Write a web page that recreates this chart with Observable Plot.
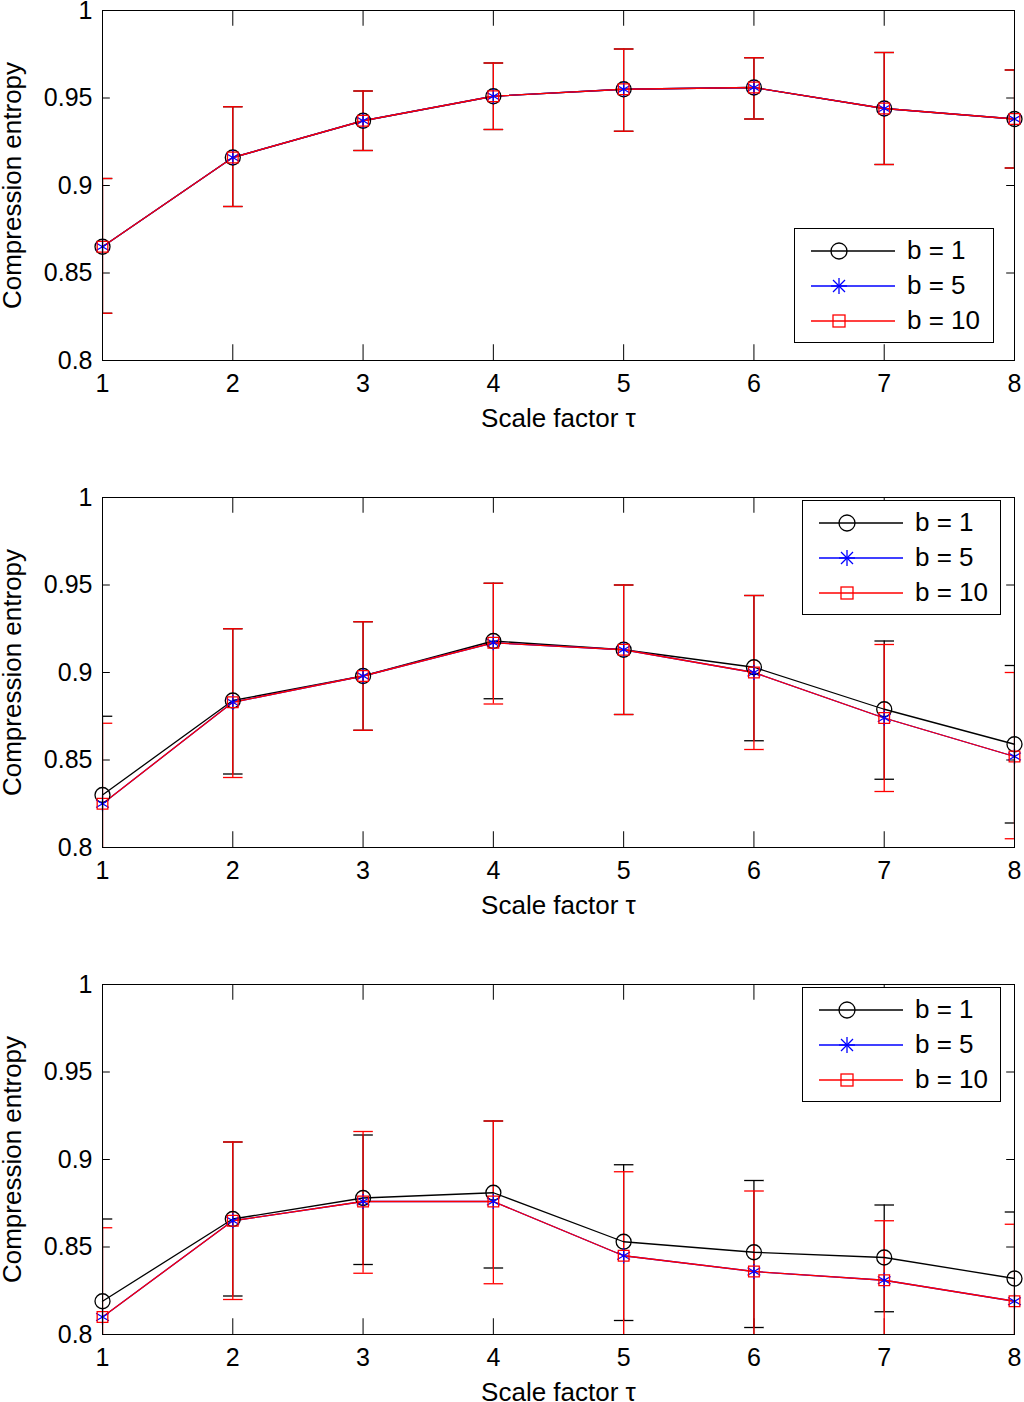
<!DOCTYPE html>
<html><head><meta charset="utf-8">
<script src="https://cdn.jsdelivr.net/npm/d3@7"></script>
<script src="https://cdn.jsdelivr.net/npm/@observablehq/plot@0.6"></script>
<style>
body{margin:0;background:#fff;font-family:"Liberation Sans",Arial,sans-serif;}
.panel{position:relative;width:1024px;}
.legend{position:absolute;background:#fff;border:1.5px solid #000;font-size:26px;}
.legend div{display:flex;align-items:center;height:35px;}
</style></head><body><div id="root"></div>
<script>
const tau = [1,2,3,4,5,6,7,8];
const p1_b1 = [0.865,0.916,0.937,0.951,0.955,0.956,0.944,0.938];
const p1_b10 = [0.865,0.916,0.937,0.951,0.955,0.956,0.944,0.938];
const p1_b1_lo = [0.827,0.888,0.920,0.932,0.931,0.938,0.912,0.910];
const p1_b1_hi = [0.904,0.945,0.954,0.970,0.978,0.973,0.976,0.966];
const p1_b10_lo = [0.827,0.888,0.920,0.932,0.931,0.938,0.912,0.910];
const p1_b10_hi = [0.904,0.945,0.954,0.970,0.978,0.973,0.976,0.966];
const p2_b1 = [0.830,0.884,0.898,0.918,0.913,0.903,0.879,0.859];
const p2_b10 = [0.825,0.883,0.898,0.917,0.913,0.900,0.874,0.852];
const p2_b1_lo = [0.787,0.842,0.867,0.885,0.876,0.861,0.839,0.814];
const p2_b1_hi = [0.875,0.925,0.929,0.951,0.950,0.944,0.918,0.904];
const p2_b10_lo = [0.780,0.840,0.867,0.882,0.876,0.856,0.832,0.805];
const p2_b10_hi = [0.871,0.925,0.929,0.951,0.950,0.944,0.916,0.900];
const p3_b1 = [0.819,0.866,0.878,0.881,0.853,0.847,0.844,0.832];
const p3_b10 = [0.810,0.865,0.876,0.876,0.845,0.836,0.831,0.819];
const p3_b1_lo = [0.780,0.822,0.840,0.838,0.808,0.804,0.813,0.790];
const p3_b1_hi = [0.866,0.910,0.914,0.922,0.897,0.888,0.874,0.870];
const p3_b10_lo = [0.760,0.820,0.835,0.829,0.790,0.790,0.797,0.775];
const p3_b10_hi = [0.861,0.910,0.916,0.922,0.893,0.882,0.865,0.863];
const yTicks = [0.8,0.85,0.9,0.95,1];
const legendLabels = ["b = 1","b = 5","b = 10"];

const panels = [
 {b1:p1_b1,b10:p1_b10,l1:p1_b1_lo,h1:p1_b1_hi,l10:p1_b10_lo,h10:p1_b10_hi,h:487,mb:127,leg:{left:794,top:228,w:198}},
 {b1:p2_b1,b10:p2_b10,l1:p2_b1_lo,h1:p2_b1_hi,l10:p2_b10_lo,h10:p2_b10_hi,h:487,mb:127,leg:{left:802,top:13,w:197}},
 {b1:p3_b1,b10:p3_b10,l1:p3_b1_lo,h1:p3_b1_hi,l10:p3_b10_lo,h10:p3_b10_hi,h:428,mb:68,leg:{left:802,top:13,w:197}}
];
const fmt = d => String(+d.toFixed(2));
const root = document.getElementById("root");
const capW = 0.075, tx = 0.06, ty = 0.0045;
panels.forEach(p => {
  const rows = s => tau.map((t,i)=>({x:t,y:s[i]}));
  const errs = (lo,hi) => tau.map((t,i)=>({x:t,lo:lo[i],hi:hi[i]}));
  const e1 = errs(p.l1,p.h1), e10 = errs(p.l10,p.h10);
  const errMarks = (e,c) => [
    Plot.ruleX(e,{x:"x",y1:"lo",y2:"hi",stroke:c,strokeWidth:1.3,clip:true}),
    Plot.link(e,{x1:d=>d.x-capW,x2:d=>d.x+capW,y1:"lo",y2:"lo",stroke:c,strokeWidth:1.3,clip:true}),
    Plot.link(e,{x1:d=>d.x-capW,x2:d=>d.x+capW,y1:"hi",y2:"hi",stroke:c,strokeWidth:1.3,clip:true})
  ];
  const chart = Plot.plot({
    width:1024,height:p.h,marginLeft:102,marginRight:10,marginTop:10,marginBottom:p.mb,
    style:{fontFamily:"Liberation Sans, Arial, sans-serif",fontSize:"25px",background:"#fff",overflow:"visible"},
    x:{domain:[1,8]}, y:{domain:[0.8,1]},
    marks:[
      Plot.axisX(tau,{tickSize:0,tickPadding:14,fontSize:25,tickFormat:d=>String(d),label:null,fill:"#000"}),
      Plot.axisY(yTicks,{tickSize:0,tickPadding:10,fontSize:25,tickFormat:fmt,label:null,fill:"#000"}),
      Plot.text(["Scale factor τ"],{frameAnchor:"bottom",dy:58,fontSize:26,lineAnchor:"middle"}),
      Plot.text(["Compression entropy"],{frameAnchor:"left",dx:-90,rotate:-90,fontSize:26,textAnchor:"middle"}),
      Plot.ruleX(tau,{x:d=>d,y1:0.8,y2:0.8+ty*2,stroke:"#000"}),
      Plot.ruleX(tau,{x:d=>d,y1:1,y2:1-ty*2,stroke:"#000"}),
      Plot.ruleY(yTicks,{y:d=>d,x1:1,x2:1+tx,stroke:"#000"}),
      Plot.ruleY(yTicks,{y:d=>d,x1:8,x2:8-tx,stroke:"#000"}),
      ...errMarks(e1,"#000"),
      ...errMarks(e10,"red"),
      Plot.line(rows(p.b1),{x:"x",y:"y",stroke:"#000",strokeWidth:1.3}),
      Plot.line(rows(p.b10),{x:"x",y:"y",stroke:"blue",strokeWidth:1.3}),
      Plot.line(rows(p.b10),{x:"x",y:"y",stroke:"red",strokeWidth:1.3}),
      Plot.dot(rows(p.b1),{x:"x",y:"y",r:7.5,stroke:"#000",fill:"none",strokeWidth:1.3}),
      Plot.dot(rows(p.b10),{x:"x",y:"y",r:7,symbol:"asterisk",stroke:"blue",strokeWidth:1.3}),
      Plot.dot(rows(p.b10),{x:"x",y:"y",r:6,symbol:"square",stroke:"red",fill:"none",strokeWidth:1.3}),
      Plot.frame({stroke:"#000"})
    ]
  });
  const div = document.createElement("div"); div.className="panel";
  div.appendChild(chart);
  const L = document.createElement("div"); L.className="legend";
  L.style.left=p.leg.left+"px"; L.style.top=p.leg.top+"px"; L.style.width=p.leg.w+"px"; L.style.padding="4px 0";
  const cols=["#000","blue","red"];
  const syms=['<circle cx="42" cy="12" r="8" fill="none" stroke="#000" stroke-width="1.3"/>',
   '<g stroke="blue" stroke-width="1.3"><line x1="34" y1="12" x2="50" y2="12"/><line x1="42" y1="4" x2="42" y2="20"/><line x1="36" y1="6" x2="48" y2="18"/><line x1="36" y1="18" x2="48" y2="6"/></g>',
   '<rect x="36" y="6" width="12" height="12" fill="none" stroke="red" stroke-width="1.3"/>'];
  legendLabels.forEach((lab,i)=>{
    const r=document.createElement("div");
    r.innerHTML=`<svg width="110" height="24" style="margin-left:2px"><line x1="14" y1="12" x2="98" y2="12" stroke="${cols[i]}" stroke-width="1.3"/>${syms[i]}</svg><span>${lab}</span>`;
    L.appendChild(r);
  });
  div.appendChild(L);
  root.appendChild(div);
});
</script></body></html>
